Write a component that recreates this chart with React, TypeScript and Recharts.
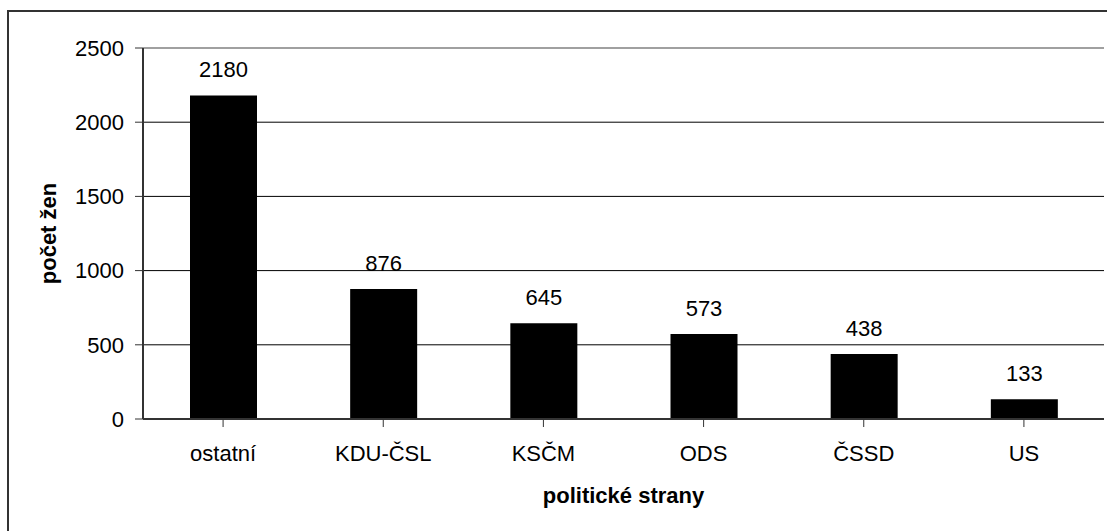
import React from 'react';
import { BarChart, Bar, XAxis, YAxis, CartesianGrid, LabelList, ReferenceLine, Label } from 'recharts';

const parties = ['ostatní', 'KDU-ČSL', 'KSČM', 'ODS', 'ČSSD', 'US'];
const womenCounts = [2180, 876, 645, 573, 438, 133];
const yTicks = [0, 500, 1000, 1500, 2000, 2500];

const data = parties.map((name, i) => ({ name, value: womenCounts[i] }));

const FONT = '"Liberation Sans", Arial, sans-serif';

const App: React.FC = () => {
  return (
    <div style={{ position: 'absolute', left: 0, top: 0, width: 1107, height: 531, overflow: 'hidden', background: '#fff' }}>
      {/* outer chart frame, runs off the right and bottom edges */}
      <div style={{ position: 'absolute', left: 7, top: 10, width: 1120, height: 540, border: '2px solid #333', boxSizing: 'border-box' }} />
      <div style={{ position: 'absolute', left: 0, top: 0 }}>
        <BarChart
          width={1107}
          height={531}
          data={data}
          margin={{ top: 48, right: 3, bottom: 12, left: 0 }}
          barSize={67}
          style={{ fontFamily: FONT }}
        >
          <CartesianGrid vertical={false} stroke="#000" strokeWidth={1} />
          <ReferenceLine y={2500} stroke="#a0a0a0" strokeWidth={2} />
          <XAxis
            dataKey="name"
            height={100}
            tickSize={8}
            tickMargin={18}
            axisLine={{ stroke: '#333', strokeWidth: 2 }}
            tickLine={{ stroke: '#333' }}
            tick={{ fill: '#000', fontSize: 22, fontFamily: FONT }}
            interval={0}
          >
            <Label
              content={({ viewBox }: any) => (
                <text
                  x={viewBox.x + viewBox.width / 2}
                  y={503}
                  textAnchor="middle"
                  fontSize={22}
                  fontWeight="bold"
                  fontFamily={FONT}
                  fill="#000"
                >
                  politické strany
                </text>
              )}
            />
          </XAxis>
          <YAxis
            width={143}
            domain={[0, 2500]}
            ticks={yTicks}
            interval={0}
            tickSize={8}
            tickMargin={11}
            axisLine={{ stroke: '#333', strokeWidth: 2 }}
            tickLine={{ stroke: '#333' }}
            tick={{ fill: '#000', fontSize: 22, fontFamily: FONT }}
          >
            <Label
              content={({ viewBox }: any) => {
                const cy = viewBox.y + viewBox.height / 2;
                return (
                  <text
                    x={56}
                    y={cy}
                    transform={`rotate(-90 56 ${cy})`}
                    textAnchor="middle"
                    fontSize={22}
                    fontWeight="bold"
                    fontFamily={FONT}
                    fill="#000"
                  >
                    počet žen
                  </text>
                );
              }}
            />
          </YAxis>
          <YAxis
            yAxisId="frame"
            orientation="right"
            width={0}
            tick={false}
            tickLine={false}
            axisLine={{ stroke: '#888', strokeWidth: 2 }}
          />
          <Bar dataKey="value" fill="#000" isAnimationActive={false}>
            <LabelList
              dataKey="value"
              position="top"
              offset={18}
              style={{ fill: '#000', fontSize: 22, fontFamily: FONT }}
            />
          </Bar>
        </BarChart>
      </div>
    </div>
  );
};

export default App;
